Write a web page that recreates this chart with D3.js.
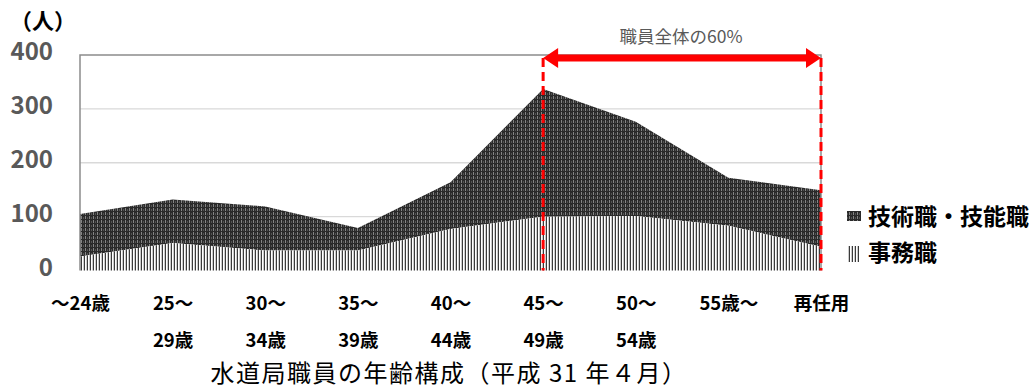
<!DOCTYPE html>
<html><head><meta charset="utf-8">
<script src="https://cdn.jsdelivr.net/npm/d3@7"></script>
<style>
html,body{margin:0;padding:0;background:#fff;}
text{font-family:"Noto Sans CJK JP","Noto Sans",sans-serif;}
</style></head>
<body>
<svg id="chart" width="1032" height="388"></svg>
<script>
const categories = ["～24歳","25～29歳","30～34歳","35～39歳","40～44歳","45～49歳","50～54歳","55歳～","再任用"];
const labelLine1 = ["～24歳","25～","30～","35～","40～","45～","50～","55歳～","再任用"];
const labelLine2 = ["","29歳","34歳","39歳","44歳","49歳","54歳","",""];
const clerical = [26, 51, 37, 37, 77, 100, 101, 83, 44];
const technical = [79, 81, 82, 42, 87, 237, 175, 89, 105];
const seriesNames = ["技術職・技能職","事務職"];
const yTicks = [0,100,200,300,400];
const annotationText = "職員全体の60%";
const annotationFrom = "45～49歳";
const annotationTo = "再任用";
const title = "水道局職員の年齢構成（平成 31 年４月）";

const svg = d3.select("#chart");
const pL = 80, pR = 821, pT = 55, pB = 270.5;

const x = d3.scalePoint().domain(categories).range([pL, pR]).padding(0);
const y = d3.scaleLinear().domain([0, 400]).range([pB, pT]);

// patterns
const defs = svg.append("defs");
const pLow = defs.append("pattern").attr("id","pLow").attr("patternUnits","userSpaceOnUse")
  .attr("width",3).attr("height",4);
pLow.append("rect").attr("width",3).attr("height",4).attr("fill","#fff");
pLow.append("rect").attr("x",0).attr("width",1).attr("height",4).attr("fill","#3a3a3a");
pLow.append("rect").attr("x",2).attr("width",0.6).attr("height",4).attr("fill","#a8a8a8");

const pHigh = defs.append("pattern").attr("id","pHigh").attr("patternUnits","userSpaceOnUse")
  .attr("width",4).attr("height",4);
pHigh.append("rect").attr("width",4).attr("height",4).attr("fill","#2a2a2a");
pHigh.append("rect").attr("x",1).attr("y",0).attr("width",1).attr("height",3).attr("fill","#858585");
pHigh.append("rect").attr("x",3).attr("y",1).attr("width",0.8).attr("height",2).attr("fill","#5a5a5a");

// gridlines
svg.append("g").selectAll("line").data(yTicks.filter(d => d > 0 && d < 400)).join("line")
  .attr("x1", pL).attr("x2", pR).attr("y1", d => y(d)).attr("y2", d => y(d))
  .attr("stroke","#d9d9d9").attr("stroke-width",1.3);

// areas
const data = categories.map((c,i) => ({c, low: clerical[i], high: clerical[i] + technical[i]}));
const areaLow = d3.area().x(d => x(d.c)).y0(y(0)).y1(d => y(d.low));
const areaHigh = d3.area().x(d => x(d.c)).y0(d => y(d.low)).y1(d => y(d.high));
svg.append("path").datum(data).attr("d", areaHigh).attr("fill","url(#pHigh)");
svg.append("path").datum(data).attr("d", areaLow).attr("fill","url(#pLow)");

// plot border (left, top, right)
svg.append("path")
  .attr("d", `M${pL},${pB}V${pT}H${pR}V${pB}`)
  .attr("fill","none").attr("stroke","#8c8c8c").attr("stroke-width",1.5);

// y axis
const yAxis = d3.axisLeft(y).tickValues(yTicks).tickSize(0).tickPadding(27);
const gy = svg.append("g").attr("transform",`translate(${pL},0)`).call(yAxis);
gy.select(".domain").remove();
gy.selectAll("text").attr("font-size",24).attr("font-weight","bold").attr("fill","#595959")
  .attr("font-family","'Noto Sans','DejaVu Sans',sans-serif").attr("dy","0.2em");

svg.append("text").attr("x",43).attr("y",29).attr("text-anchor","middle")
  .attr("font-size",22).attr("font-weight","bold").attr("fill","#000").text("（人）");

// x axis labels
const xAxis = d3.axisBottom(x).tickSize(0).tickPadding(0).tickFormat((d,i) => labelLine1[i]);
const gx = svg.append("g").attr("transform",`translate(0,${pB})`).call(xAxis);
gx.select(".domain").remove();
gx.selectAll("text").attr("font-size",18.5).attr("font-weight","bold").attr("fill","#000")
  .attr("font-family","'Noto Sans CJK JP',sans-serif")
  .attr("y",39).attr("dy",0)
  .each(function(d,i){
    if (labelLine2[i]) {
      d3.select(this).append("tspan").attr("x",0).attr("dy",37).text(labelLine2[i]);
    }
  });

// annotation
const xa = x(annotationFrom), xb = x(annotationTo);
const ay = 58;
[xa, xb].forEach(xx => {
  svg.append("line").attr("x1",xx).attr("x2",xx).attr("y1",ay).attr("y2",pB)
    .attr("stroke","#ff0000").attr("stroke-width",3).attr("stroke-dasharray","9,5");
});
const head = 15, hh = 10, thick = 3.5;
svg.append("path")
  .attr("d", `M${xa},${ay}L${xa+head},${ay-hh}V${ay-thick}H${xb-head}V${ay-hh}L${xb},${ay}L${xb-head},${ay+hh}V${ay+thick}H${xa+head}V${ay+hh}Z`)
  .attr("fill","#ff0000");
svg.append("text").attr("x",(xa+xb)/2 - 1).attr("y",43).attr("text-anchor","middle")
  .attr("font-size",17.5).attr("fill","#595959").text(annotationText);

// legend
const lg = svg.append("g");
lg.append("rect").attr("x",847).attr("y",211).attr("width",14).attr("height",10).attr("fill","url(#pHigh)");
lg.append("rect").attr("x",847).attr("y",246).attr("width",12).attr("height",16).attr("fill","url(#pLow)");
lg.append("text").attr("x",868).attr("y",225).attr("font-size",23).attr("font-weight","bold").text(seriesNames[0]);
lg.append("text").attr("x",868).attr("y",261).attr("font-size",23).attr("font-weight","bold").text(seriesNames[1]);

// title
svg.append("text").attr("x",449).attr("y",382).attr("text-anchor","middle")
  .attr("font-size",24).attr("letter-spacing",1.5).attr("fill","#000").text(title);
</script>
</body></html>
